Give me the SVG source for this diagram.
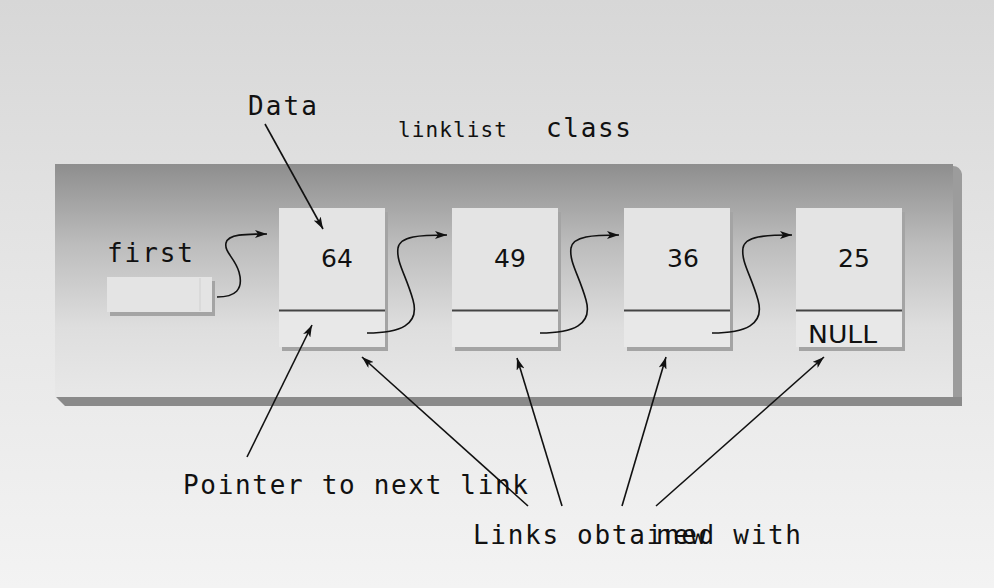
<svg xmlns="http://www.w3.org/2000/svg" width="994" height="588" viewBox="0 0 994 588">
<defs>
<linearGradient id="bg" x1="0" y1="0" x2="0" y2="1">
<stop offset="0" stop-color="#d7d7d7"/>
<stop offset="0.5" stop-color="#e6e6e6"/>
<stop offset="1" stop-color="#f3f3f3"/>
</linearGradient>
<linearGradient id="slab" x1="0" y1="0" x2="0" y2="1">
<stop offset="0" stop-color="#8e8e8e"/>
<stop offset="0.35" stop-color="#bdbdbd"/>
<stop offset="0.7" stop-color="#dedede"/>
<stop offset="1" stop-color="#e8e8e8"/>
</linearGradient>
<marker id="ah" viewBox="0 0 12 8" refX="12" refY="4" markerWidth="12" markerHeight="8" markerUnits="userSpaceOnUse" orient="auto">
<path d="M0,0 L12,4 L0,8 L3,4 z" fill="#111"/>
</marker>
<style>
.lbl{font-family:"DejaVu Sans Mono","Liberation Mono",monospace;font-size:26px;fill:#111}
.sm{font-size:21px}
.num{font-family:"DejaVu Sans","Liberation Sans",sans-serif;font-size:25px;fill:#111;text-anchor:middle}
.null{font-family:"DejaVu Sans","Liberation Sans",sans-serif;font-size:24px;fill:#111}
.ln{fill:none;stroke:#111;stroke-width:1.6;marker-end:url(#ah)}
.box{fill:#e4e4e4}
.boxlo{fill:#e8e8e8}
.shb{fill:#a4a4a4}
.div{stroke:#444;stroke-width:2}
</style>
</defs>
<rect x="0" y="0" width="994" height="588" fill="url(#bg)"/>
<g id="slab-group">
<path d="M953,166 Q960,166 962,174 L962,405 L953,405 Z" fill="#9c9c9c"/>
<path d="M56,397 L962,397 L962,406 L65,406 Z" fill="#8a8a8a"/>
<rect x="55" y="164" width="898" height="233" fill="url(#slab)"/>
</g>
<g id="title">
<text class="lbl sm" x="398" y="137" textLength="109" lengthAdjust="spacing">linklist</text>
<text class="lbl" x="546" y="137" textLength="85" lengthAdjust="spacing">class</text>
</g>
<g id="label-data"><text class="lbl" x="248" y="115" textLength="69" lengthAdjust="spacing">Data</text></g>
<g id="first">
<text class="lbl" x="107" y="262" textLength="86" lengthAdjust="spacing">first</text>
<rect x="110" y="281" width="105" height="35" class="shb"/>
<rect x="107" y="277" width="105" height="35" class="box"/>
<line x1="200" y1="278" x2="200" y2="311" stroke="#d0d0d0" stroke-width="1"/>
</g>
<g id="node-64">
<rect x="282" y="212" width="106" height="139" class="shb"/>
<rect x="279" y="208" width="106" height="102" class="box"/>
<rect x="279" y="311" width="106" height="36" class="boxlo"/>
<line x1="279" y1="310.5" x2="385" y2="310.5" class="div"/>
<text class="num" x="337" y="267">64</text>
</g>
<g id="node-49">
<rect x="455" y="212" width="106" height="139" class="shb"/>
<rect x="452" y="208" width="106" height="102" class="box"/>
<rect x="452" y="311" width="106" height="36" class="boxlo"/>
<line x1="452" y1="310.5" x2="558" y2="310.5" class="div"/>
<text class="num" x="510" y="267">49</text>
</g>
<g id="node-36">
<rect x="627" y="212" width="106" height="139" class="shb"/>
<rect x="624" y="208" width="106" height="102" class="box"/>
<rect x="624" y="311" width="106" height="36" class="boxlo"/>
<line x1="624" y1="310.5" x2="730" y2="310.5" class="div"/>
<text class="num" x="683" y="267">36</text>
</g>
<g id="node-25">
<rect x="799" y="212" width="106" height="139" class="shb"/>
<rect x="796" y="208" width="106" height="102" class="box"/>
<rect x="796" y="311" width="106" height="36" class="boxlo"/>
<line x1="796" y1="310.5" x2="902" y2="310.5" class="div"/>
<text class="num" x="854" y="267">25</text>
<text class="null" x="808" y="343" textLength="69" lengthAdjust="spacingAndGlyphs">NULL</text>
</g>
<g id="label-pointer"><text class="lbl" x="183" y="494" textLength="345" lengthAdjust="spacing">Pointer to next link</text></g>
<g id="label-links">
<text class="lbl" x="473" y="544" textLength="328" lengthAdjust="spacing">Links obtained with</text>
<text class="lbl" x="656" y="544" textLength="50" lengthAdjust="spacing">new</text>
</g>
<g id="connectors">
<path class="ln" d="M217,297 C235,297 244,290 239,272 C235,258 224,252 226,243 C228,234 245,234 267,234"/>
<path class="ln" d="M367,333 C400,333 420,325 413,300 C406,275 396,262 398,248 C400,236 420,235 447,235"/>
<path class="ln" d="M540,333 C573,333 593,325 586,300 C579,275 569,262 571,248 C573,236 593,235 619,235"/>
<path class="ln" d="M712,333 C745,333 765,325 758,300 C751,275 741,262 743,248 C745,236 765,235 792,235"/>
<line class="ln" x1="265" y1="124" x2="323" y2="229"/>
<line class="ln" x1="247" y1="457" x2="312" y2="325"/>
<line class="ln" x1="528" y1="506" x2="362" y2="357"/>
<line class="ln" x1="562" y1="506" x2="517" y2="358"/>
<line class="ln" x1="622" y1="506" x2="666" y2="357"/>
<line class="ln" x1="656" y1="506" x2="824" y2="357"/>
</g>
</svg>
